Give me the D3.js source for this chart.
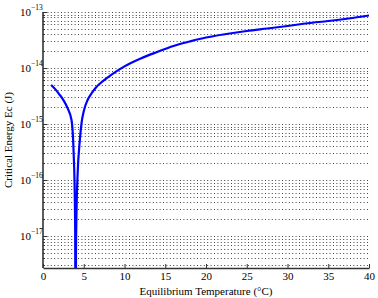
<!DOCTYPE html>
<html>
  <head>
    <meta charset="utf-8">
    <title>Critical Energy vs Equilibrium Temperature</title>
    <script src="https://d3js.org/d3.v7.min.js"></script>
    <style>
      body { margin: 0; background: #fff; }
      text { font-family: "Liberation Serif", "Times New Roman", serif; fill: #000; }
    </style>
  </head>
  <body>
    <svg width="378" height="298"></svg>

    <script>
      // temperature (°C) and critical energy (J)
      var temps = [1, 1.5, 2, 2.5, 3, 3.5, 3.75, 3.9, 3.95, 4.0, 4.05, 4.1, 4.25, 4.5, 4.75,
                   5, 5.5, 6, 6.5, 7, 8, 9, 10, 12, 14, 16, 18, 20, 22.5, 25, 27.5,
                   30, 32.5, 35, 37.5, 40];
      var energy = [5.0e-15, 4.2e-15, 3.4e-15, 2.68e-15, 1.94e-15, 1.18e-15, 3.3e-16, 5e-17, 1.2e-17, 1e-20, 5.3e-18, 2.1e-17, 1.3e-16, 4.8e-16, 1.1e-15,
                    1.7e-15, 2.75e-15, 3.6e-15, 4.5e-15, 5.3e-15, 6.9e-15, 8.7e-15, 1.07e-14, 1.48e-14, 1.93e-14, 2.47e-14, 2.97e-14, 3.5e-14, 4.05e-14, 4.58e-14, 5.07e-14,
                    5.62e-14, 6.3e-14, 6.9e-14, 7.66e-14, 8.66e-14];
      var xTicks = [0, 5, 10, 15, 20, 25, 30, 35, 40];
      var yExps = [-13, -14, -15, -16, -17];

      var margin = {left: 43, right: 9, top: 12, bottom: 30};
      var W = 378, H = 298;
      var svg = d3.select("svg");

      var x = d3.scaleLinear().domain([0, 40]).range([margin.left, W - margin.right]);
      var y = d3.scaleLog().domain([2.7e-18, 1e-13]).range([H - margin.bottom, margin.top]);

      // minor + major horizontal grid (dotted)
      var gridVals = [];
      for (var e = -18; e < -13; e++) {
        for (var k = 1; k < 10; k++) {
          var v = k * Math.pow(10, e);
          if (v >= 2.7e-18 && v <= 1e-13) gridVals.push(v);
        }
      }
      gridVals.push(1e-13);

      svg.append("g").selectAll("line")
        .data(gridVals)
        .join("line")
        .attr("x1", x(0) + 1).attr("x2", x(40))
        .attr("y1", function(d) { return Math.round(y(d)) + 0.5; })
        .attr("y2", function(d) { return Math.round(y(d)) + 0.5; })
        .attr("stroke", "#444")
        .attr("stroke-width", 1)
        .attr("stroke-dasharray", "1,2.4");

      // minor ticks on y axis (inward)
      svg.append("g").selectAll("line")
        .data(gridVals)
        .join("line")
        .attr("x1", x(0)).attr("x2", function(d) {
          var isMajor = Math.abs(Math.log10(d) - Math.round(Math.log10(d))) < 1e-6;
          return x(0) + (isMajor ? 4 : 2);
        })
        .attr("y1", function(d) { return Math.round(y(d)) + 0.5; })
        .attr("y2", function(d) { return Math.round(y(d)) + 0.5; })
        .attr("stroke", "#333");

      // curve
      svg.append("clipPath").attr("id", "clip")
        .append("rect")
        .attr("x", x(0)).attr("y", y(1e-13))
        .attr("width", x(40) - x(0)).attr("height", y(2.7e-18) - y(1e-13));

      var pts = temps.map(function(t, i) { return [t, energy[i]]; });
      var line = d3.line()
        .x(function(d) { return x(d[0]); })
        .y(function(d) { return y(d[1]); })
        .curve(d3.curveMonotoneX);

      svg.append("path")
        .datum(pts)
        .attr("clip-path", "url(#clip)")
        .attr("fill", "none")
        .attr("stroke", "#0000ff")
        .attr("stroke-width", 2.2)
        .attr("d", line);

      // x axis
      var xAxis = d3.axisBottom(x).tickValues(xTicks).tickSizeInner(-4).tickSizeOuter(0).tickPadding(4);
      var gx = svg.append("g")
        .attr("transform", "translate(0," + (H - margin.bottom) + ")")
        .call(xAxis);
      gx.select(".domain").attr("stroke", "#333").attr("stroke-width", 1.6);
      gx.selectAll(".tick line").attr("stroke", "#333");
      gx.selectAll("text").style("font-family", "Liberation Serif").style("font-size", "11px");

      // left axis line
      svg.append("line")
        .attr("x1", x(0)).attr("x2", x(0))
        .attr("y1", y(1e-13)).attr("y2", y(2.7e-18))
        .attr("stroke", "#333").attr("stroke-width", 1.6);

      // y tick labels 10^e
      svg.append("g").selectAll("text")
        .data(yExps)
        .join("text")
        .attr("x", x(0) - 12)
        .attr("y", function(d) { return y(Math.pow(10, d)) + 4; })
        .attr("text-anchor", "end")
        .style("font-size", "11px")
        .text("10");
      svg.append("g").selectAll("text")
        .data(yExps)
        .join("text")
        .attr("x", x(0) - 12)
        .attr("y", function(d) { return y(Math.pow(10, d)) - 2; })
        .style("font-size", "7.5px")
        .text(function(d) { return "\u2212" + Math.abs(d); });

      // axis labels
      svg.append("text")
        .attr("x", (x(0) + x(40)) / 2)
        .attr("y", 295)
        .attr("text-anchor", "middle")
        .style("font-size", "11px")
        .text("Equilibrium Temperature (\u00B0C)");

      svg.append("text")
        .attr("transform", "translate(12," + ((y(1e-13) + y(2.7e-18)) / 2) + ") rotate(-90)")
        .attr("text-anchor", "middle")
        .style("font-size", "11px")
        .text("Critical Energy Ec (J)");
    </script>
  </body>
</html>
